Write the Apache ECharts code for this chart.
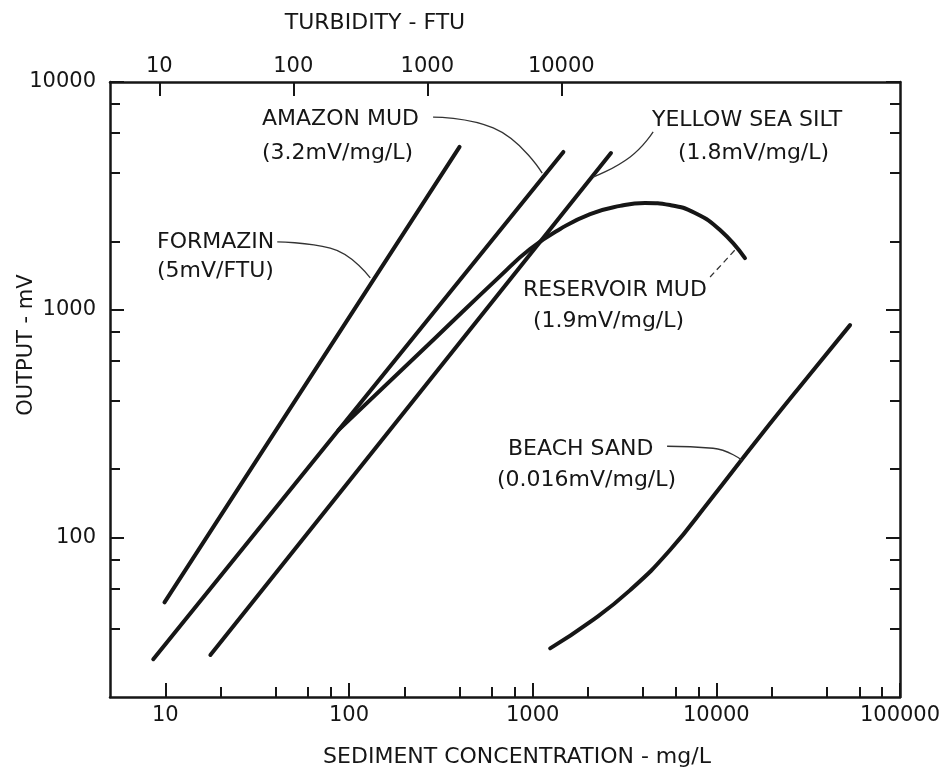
<!DOCTYPE html>
<html><head><meta charset="utf-8">
<script src="https://cdn.jsdelivr.net/npm/echarts@6/dist/echarts.min.js"></script>
<style>html,body{margin:0;padding:0;background:#fff}#c{width:949px;height:773px}</style>
</head><body><div id="c"></div>
<script>
// ---- tick values ----
const concTicks = [10, 100, 1000, 10000, 100000];
const concMinor = [20, 40, 60, 80, 200, 400, 600, 800, 2000, 4000, 6000, 8000, 20000, 40000, 60000, 80000];
const ftuTicks = [10, 100, 1000, 10000];
const outTicks = [100, 1000, 10000];
const outMinor = [40, 60, 80, 200, 400, 600, 800, 2000, 4000, 6000, 8000];

// ---- series (sediment concentration mg/L, output mV) ----
const formazin = [[9.9, 52], [400, 5190]];
const amazonMud = [[8.6, 29.3], [1470, 4930]];
const yellowSeaSilt = [[17.6, 30.6], [2670, 4880]];
const reservoirMud = [[87.4, 296], [294, 751], [665, 1406], [968, 1849], [1413, 2265], [2056, 2634], [2992, 2859], [4093, 2945], [5598, 2884], [7656, 2660], [10480, 2239], [14320, 1687]];
const beachSand = [[1245, 32.7], [2056, 42.7], [3396, 58.9], [5598, 88.3], [9247, 146.2], [17300, 279], [32360, 522], [53460, 857]];

// ---- annotation leader lines (data coords) ----
const leaderFormazin = [[40.7, 1986], [79.1, 1866], [130.6, 1380]];
const leaderAmazon = [[287, 7018], [610, 6285], [1127, 3981]];
const leaderYellow = [[4529, 6040], [3396, 4690], [2134, 3828]];
const leaderReservoir = [[9247, 1393], [12650, 1833]];
const leaderBeach = [[5395, 252], [9594, 247], [13800, 219]];

const INK = '#161616';
const FONT = 'DejaVu Sans';

const chart = echarts.init(document.getElementById('c'), null, {renderer: 'canvas'});

function curve(data, smooth) {
  return {type: 'line', data: data, xAxisIndex: 0, yAxisIndex: 0, symbol: 'none', smooth: smooth,
    lineStyle: {color: INK, width: 4, cap: 'round', join: 'round'}, silent: true, animation: false};
}
function leader(data, dashed) {
  return {type: 'line', data: data, xAxisIndex: 0, yAxisIndex: 0, symbol: 'none', smooth: true,
    lineStyle: {color: '#333', width: 1.3, type: dashed ? [6, 4] : 'solid'}, silent: true, animation: false};
}
function txt(s, x, y, size, align, rot) {
  const g = {type: 'text', x: x, y: y, style: {text: s, fill: INK, font: size + 'px "' + FONT + '"', verticalAlign: 'middle', align: align || 'left'}};
  if (rot) g.rotation = rot;
  return g;
}

const axisLineStyle = {show: true, lineStyle: {color: INK, width: 2.5}, onZero: false};
const plain = function (v) { return String(Math.round(v)); };
const labelStyle = {color: INK, fontFamily: FONT, fontSize: 21, formatter: plain};

chart.setOption({
  animation: false,
  backgroundColor: '#fff',
  grid: {left: 110, right: 49, top: 82, bottom: 76, containLabel: false},
  xAxis: [
    {type: 'log', position: 'bottom', min: 5, max: 100000, axisLine: axisLineStyle,
      axisTick: {inside: true, length: 14, customValues: concTicks, lineStyle: {color: INK, width: 2}},
      axisLabel: Object.assign({customValues: concTicks, margin: 8}, labelStyle),
      splitLine: {show: false}, minorTick: {show: false}},
    {type: 'log', position: 'bottom', min: 5, max: 100000, axisLine: {show: false},
      axisTick: {inside: true, length: 10, customValues: concMinor, lineStyle: {color: INK, width: 2}},
      axisLabel: {show: false}, splitLine: {show: false}},
    {type: 'log', position: 'top', min: 4.29, max: 3370000, axisLine: axisLineStyle,
      axisTick: {inside: true, length: 14, customValues: ftuTicks, lineStyle: {color: INK, width: 2}},
      axisLabel: Object.assign({customValues: ftuTicks, margin: 5}, labelStyle),
      splitLine: {show: false}}
  ],
  yAxis: [
    {type: 'log', position: 'left', min: 20, max: 10000, axisLine: axisLineStyle,
      axisTick: {inside: true, length: 14, customValues: outTicks, lineStyle: {color: INK, width: 2}},
      axisLabel: Object.assign({customValues: outTicks, margin: 14}, labelStyle),
      splitLine: {show: false}},
    {type: 'log', position: 'left', min: 20, max: 10000, axisLine: {show: false},
      axisTick: {inside: true, length: 10, customValues: outMinor, lineStyle: {color: INK, width: 2}},
      axisLabel: {show: false}, splitLine: {show: false}},
    {type: 'log', position: 'right', min: 20, max: 10000, axisLine: axisLineStyle,
      axisTick: {inside: true, length: 14, customValues: outTicks, lineStyle: {color: INK, width: 2}},
      axisLabel: {show: false}, splitLine: {show: false}},
    {type: 'log', position: 'right', min: 20, max: 10000, axisLine: {show: false},
      axisTick: {inside: true, length: 10, customValues: outMinor, lineStyle: {color: INK, width: 2}},
      axisLabel: {show: false}, splitLine: {show: false}}
  ],
  series: [
    curve(formazin, false),
    curve(amazonMud, false),
    curve(yellowSeaSilt, false),
    curve(reservoirMud, 0.5),
    curve(beachSand, 0.5),
    leader(leaderFormazin, false),
    leader(leaderAmazon, false),
    leader(leaderYellow, false),
    leader(leaderReservoir, true),
    leader(leaderBeach, false)
  ],
  graphic: [
    txt('TURBIDITY - FTU', 375, 23, 22, 'center'),
    txt('SEDIMENT CONCENTRATION - mg/L', 517, 757, 22, 'center'),
    txt('OUTPUT - mV', 27, 345, 21, 'center', Math.PI / 2),
    txt('FORMAZIN', 157, 242, 22),
    txt('(5mV/FTU)', 157, 271, 22),
    txt('AMAZON MUD', 262, 119, 22),
    txt('(3.2mV/mg/L)', 262, 153, 22),
    txt('YELLOW SEA SILT', 652, 120, 22),
    txt('(1.8mV/mg/L)', 678, 153, 22),
    txt('RESERVOIR MUD', 523, 290, 22),
    txt('(1.9mV/mg/L)', 533, 321, 22),
    txt('BEACH SAND', 508, 449, 22),
    txt('(0.016mV/mg/L)', 497, 480, 22)
  ]
});
</script>
</body></html>
